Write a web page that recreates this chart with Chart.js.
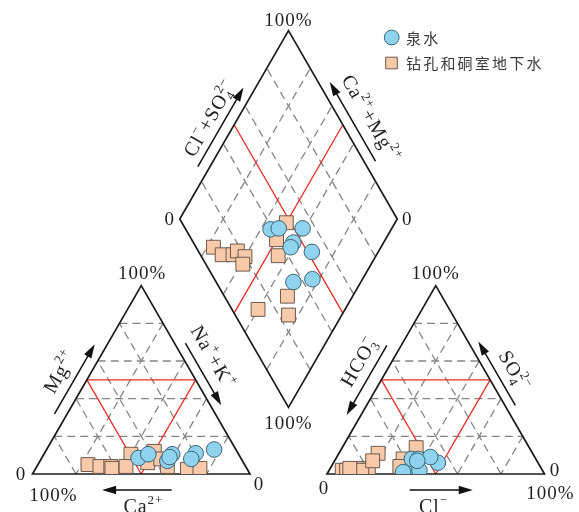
<!DOCTYPE html>
<html>
<head>
<meta charset="utf-8">
<script src="https://cdn.jsdelivr.net/npm/chart.js@4/dist/chart.umd.min.js"></script>
<style>
  html, body { margin: 0; padding: 0; background: #ffffff; }
  canvas { display: block; }
</style>
</head>
<body>
<canvas id="piper" width="579" height="512"></canvas>
<script>
// ---- Piper diagram data (milliequivalent percentages) ----
const seriesNames = ['泉水', '钻孔和硐室地下水'];

// Spring water: cations
const springCa  = [47, 41.5, 30.5, 34.5, 32.5, 19.5, 23, 10];
const springMg  = [8.5, 10.5, 10.5, 7, 9, 11, 8, 13];
const springNaK = [44.5, 48, 59, 58.5, 58.5, 69.5, 69, 77];
// Spring water: anions
const springHCO3 = [61, 57, 46, 54, 56.5, 48, 64.5, 55];
const springSO4  = [2, 8, 6, 8, 2, 9, 1, 7];
const springCl   = [37, 35, 48, 38, 41.5, 43, 34.5, 38];

// Borehole and chamber groundwater: cations
const wellCa  = [72, 67, 62, 62, 49.5, 55, 44, 38, 37, 36, 27.5, 21.5];
const wellMg  = [5, 4, 4, 3, 10.5, 4, 6, 12, 8, 4, 2.5, 3];
const wellNaK = [23, 29, 34, 35, 40, 41, 50, 50, 55, 60, 70, 75.5];
// Borehole and chamber groundwater: anions
const wellHCO3 = [92, 90, 85, 82, 80, 83, 52, 61, 64.5, 88, 71, 75.5];
const wellSO4  = [2, 2, 2, 3, 2, 2, 14, 8, 4, 3, 11, 7];
const wellCl   = [6, 8, 13, 15, 18, 15, 34, 31, 31.5, 9, 18, 17.5];

// Grid and classification lines (percent)
const gridLevels = [20, 40, 60, 80];
const classLevels = [50];

// ---- Diagram geometry in percent units (triangle side = 100) ----
const H = Math.sqrt(3) / 2;
const GAP = 35.4;
const CAT = [[0, 0], [100, 0], [50, 100 * H]];                          // Ca, Na+K, Mg corners
const AN  = [[100 + GAP, 0], [200 + GAP, 0], [150 + GAP, 100 * H]];     // HCO3, Cl, SO4 corners
const DB = [100 + GAP / 2, GAP * H];
const DL = [DB[0] - 50, DB[1] + 100 * H];
const DR = [DB[0] + 50, DB[1] + 100 * H];
const DT = [DB[0], DB[1] + 200 * H];

const PX = 2.175, ORIGIN_X = 32.5, BASE_Y = 474, CW = 579, CH = 512;

const lerp = (p, q, t) => [p[0] + (q[0] - p[0]) * t, p[1] + (q[1] - p[1]) * t];
function ternary(tri, a, b, c) {
  const s = a + b + c;
  return {
    x: (a * tri[0][0] + b * tri[1][0] + c * tri[2][0]) / s,
    y: (a * tri[0][1] + b * tri[1][1] + c * tri[2][1]) / s
  };
}
function diamond(caMg, clSo4) {
  const c = caMg / 100, s = clSo4 / 100;
  return {
    x: DB[0] + c * (DL[0] - DB[0]) + s * (DR[0] - DB[0]),
    y: DB[1] + c * (DL[1] - DB[1]) + s * (DR[1] - DB[1])
  };
}
function piperPoints(ca, mg, nak, hco3, so4, cl) {
  const pts = [];
  for (let i = 0; i < ca.length; i++) {
    pts.push(ternary(CAT, ca[i], nak[i], mg[i]));
    pts.push(ternary(AN, hco3[i], cl[i], so4[i]));
    const catSum = ca[i] + mg[i] + nak[i], anSum = hco3[i] + so4[i] + cl[i];
    pts.push(diamond(100 * (ca[i] + mg[i]) / catSum, 100 * (cl[i] + so4[i]) / anSum));
  }
  return pts;
}
const springPts = piperPoints(springCa, springMg, springNaK, springHCO3, springSO4, springCl);
const wellPts = piperPoints(wellCa, wellMg, wellNaK, wellHCO3, wellSO4, wellCl);

const SERIF = '"Liberation Serif", "DejaVu Serif", serif';
const CJK = '"Noto Sans CJK SC", "Noto Sans", sans-serif';
const INK = '#231f20';

// ---- Rich text with super/subscripts: ^{..}, _{..} ----
function layoutRich(ctx, text, size) {
  const re = /([_^])\{([^}]*)\}|([^_^]+)/g;
  const toks = []; let m;
  while ((m = re.exec(text))) {
    toks.push(m[3] !== undefined ? { k: 'n', t: m[3] } : { k: m[1] === '^' ? 'sup' : 'sub', t: m[2] });
  }
  const small = Math.round(size * 0.66);
  const items = []; let x = 0; let lastSub = null;
  for (const tk of toks) {
    const fs = tk.k === 'n' ? size : small;
    ctx.font = fs + 'px ' + SERIF;
    const w = ctx.measureText(tk.t).width;
    if (tk.k === 'sup' && lastSub) {
      items.push({ t: tk.t, fs, x: lastSub.x, dy: -size * 0.45 });
      x = Math.max(x, lastSub.x + w);
      lastSub = null;
      continue;
    }
    const dy = tk.k === 'sup' ? -size * 0.45 : tk.k === 'sub' ? size * 0.22 : 0;
    const it = { t: tk.t, fs, x, dy };
    items.push(it);
    lastSub = tk.k === 'sub' ? it : null;
    x += w;
  }
  return { items, width: x };
}
function drawRich(ctx, text, x, y, angle, size) {
  ctx.save();
  ctx.letterSpacing = '1px';
  const L = layoutRich(ctx, text, size);
  ctx.translate(x, y);
  ctx.rotate(angle);
  ctx.textAlign = 'left';
  ctx.textBaseline = 'alphabetic';
  ctx.fillStyle = INK;
  for (const it of L.items) {
    ctx.font = it.fs + 'px ' + SERIF;
    ctx.fillText(it.t, it.x - L.width / 2, it.dy);
  }
  ctx.restore();
}
function drawArrow(ctx, p, q) {
  const dx = q[0] - p[0], dy = q[1] - p[1], len = Math.hypot(dx, dy);
  const ux = dx / len, uy = dy / len, hl = 14, hw = 4.2;
  const bx = q[0] - ux * hl, by = q[1] - uy * hl;
  ctx.save();
  ctx.strokeStyle = '#111'; ctx.fillStyle = '#111'; ctx.lineWidth = 1.5;
  ctx.beginPath(); ctx.moveTo(p[0], p[1]); ctx.lineTo(bx + ux * 2, by + uy * 2); ctx.stroke();
  ctx.beginPath();
  ctx.moveTo(q[0], q[1]);
  ctx.lineTo(bx - uy * hw, by + ux * hw);
  ctx.lineTo(bx + uy * hw, by - ux * hw);
  ctx.closePath(); ctx.fill();
  ctx.restore();
}

// ---- Frame: grids, classification lines, outlines, labels, legend ----
const piperFrame = {
  id: 'piperFrame',
  beforeDatasetsDraw(chart) {
    const { ctx } = chart;
    const sx = chart.scales.x, sy = chart.scales.y;
    const P = p => [sx.getPixelForValue(p[0]), sy.getPixelForValue(p[1])];
    const line = (a, b) => { const p = P(a), q = P(b); ctx.beginPath(); ctx.moveTo(p[0], p[1]); ctx.lineTo(q[0], q[1]); ctx.stroke(); };
    const triLines = (tri, k) => {
      const t = k / 100;
      for (let i = 0; i < 3; i++) {
        const j = (i + 1) % 3, m = (i + 2) % 3;
        line(lerp(tri[j], tri[i], t), lerp(tri[m], tri[i], t));
      }
    };
    const diaLines = k => {
      const t = k / 100;
      line(lerp(DB, DL, t), lerp(DR, DT, t));
      line(lerp(DB, DR, t), lerp(DL, DT, t));
    };
    ctx.save();
    ctx.lineCap = 'butt';
    // dashed grid
    ctx.strokeStyle = '#858585'; ctx.lineWidth = 1.3; ctx.setLineDash([8, 5]);
    gridLevels.forEach(k => { triLines(CAT, k); triLines(AN, k); diaLines(k); });
    // 50 % classification lines
    ctx.setLineDash([]);
    ctx.strokeStyle = '#ec2b24'; ctx.lineWidth = 1.3;
    classLevels.forEach(k => { triLines(CAT, k); triLines(AN, k); diaLines(k); });
    // outlines
    ctx.strokeStyle = '#1a1a1a'; ctx.lineWidth = 1.7; ctx.lineJoin = 'miter';
    [CAT, AN, [DB, DR, DT, DL]].forEach(poly => {
      ctx.beginPath();
      poly.forEach((v, i) => { const p = P(v); i ? ctx.lineTo(p[0], p[1]) : ctx.moveTo(p[0], p[1]); });
      ctx.closePath(); ctx.stroke();
    });
    ctx.restore();
  },
  afterDraw(chart) {
    const { ctx } = chart;
    const sx = chart.scales.x, sy = chart.scales.y;
    const P = p => [sx.getPixelForValue(p[0]), sy.getPixelForValue(p[1])];
    // edge helper: a -> b in pixels, outward normal pointing away from centre
    const edge = (a, b, centre) => {
      const p = P(a), q = P(b), c = P(centre);
      const dx = q[0] - p[0], dy = q[1] - p[1], len = Math.hypot(dx, dy);
      let nx = dy / len, ny = -dx / len;
      const mx = (p[0] + q[0]) / 2 - c[0], my = (p[1] + q[1]) / 2 - c[1];
      if (nx * mx + ny * my < 0) { nx = -nx; ny = -ny; }
      return {
        at: (t, off) => [p[0] + dx * t + nx * off, p[1] + dy * t + ny * off],
        angle: Math.atan2(dy, dx)
      };
    };
    const catC = [50, 30], anC = [150 + GAP, 30], diaC = [DB[0], DB[1] + 100 * H];
    const FS = 20;
    const axes = [
      // [edge, arrow tail t, arrow head t, arrow offset, label, label t, label baseline offset]
      [edge(CAT[0], CAT[2], catC), 0.29, 0.66, 11, 'Mg^{2+}', 0.47, 21],
      [edge(CAT[2], CAT[1], catC), 0.33, 0.66, 9.5, 'Na^{+}+K^{+}', 0.45, 20],
      [edge(DL, DT, diaC), 0.25, 0.67, 10.5, 'Cl^{−}+SO_{4}^{2−}', 0.47, 18],
      [edge(DT, DR, diaC), 0.72, 0.30, 10, 'Ca^{2+}+Mg^{2+}', 0.54, 21],
      [edge(AN[0], AN[2], anC), 0.65, 0.28, 12.5, 'HCO_{3}^{−}', 0.52, 22],
      [edge(AN[2], AN[1], anC), 0.66, 0.32, 9, 'SO_{4}^{2−}', 0.52, 19]
    ];
    axes.forEach(([e, t0, t1, off, label, lt, lo]) => {
      drawArrow(ctx, e.at(t0, off), e.at(t1, off));
      const b = e.at(lt, lo);
      drawRich(ctx, label, b[0], b[1], e.angle, FS);
    });
    // base axes (Ca2+ and Cl-)
    const catBase = edge(CAT[0], CAT[1], catC), anBase = edge(AN[0], AN[1], anC);
    drawArrow(ctx, catBase.at(0.64, 16), catBase.at(0.32, 16));
    let b = catBase.at(0.51, 39); drawRich(ctx, 'Ca^{2+}', b[0], b[1], 0, FS);
    drawArrow(ctx, anBase.at(0.38, 16), anBase.at(0.67, 16));
    b = anBase.at(0.49, 39); drawRich(ctx, 'Cl^{−}', b[0], b[1], 0, FS);

    // corner values
    ctx.save();
    ctx.fillStyle = INK; ctx.font = '19px ' + SERIF; ctx.letterSpacing = '1px';
    ctx.textAlign = 'center'; ctx.textBaseline = 'middle';
    const corner = (v, txt, dx, dy) => { const p = P(v); ctx.fillText(txt, p[0] + dx, p[1] + dy); };
    corner(DT, '100%', 0, -10);
    corner(DL, '0', -10, 1);
    corner(DR, '0', 10, 1);
    corner(DB, '100%', 0, 16.5);
    corner(CAT[2], '100%', 1, -12);
    corner(CAT[0], '0', -11.5, 1);
    corner(CAT[0], '100%', 21, 22);
    corner(CAT[1], '0', 9, 11);
    corner(AN[2], '100%', 0, -12);
    corner(AN[0], '0', -3, 15);
    corner(AN[1], '0', 10.5, -3);
    corner(AN[1], '100%', 6, 20);
    ctx.restore();

    // legend
    ctx.save();
    const ds = chart.data.datasets;
    const rows = [[391.7, 37.5], [391.5, 63]];
    ds.forEach((d, i) => {
      const [lx, ly] = rows[i];
      ctx.fillStyle = d.backgroundColor; ctx.strokeStyle = d.borderColor; ctx.lineWidth = 1;
      ctx.beginPath();
      if (d.pointStyle === 'circle') ctx.arc(lx, ly, 7.4, 0, Math.PI * 2);
      else ctx.rect(lx - 5.8, ly - 5.8, 11.6, 11.6);
      ctx.fill(); ctx.stroke();
      ctx.fillStyle = '#3a3a3a'; ctx.font = '15px ' + CJK; ctx.letterSpacing = '2.2px';
      ctx.textAlign = 'left'; ctx.textBaseline = 'middle';
      ctx.fillText(d.label, 406, ly + 0.5);
    });
    ctx.restore();
  }
};

const clipBase = { left: false, top: false, right: false, bottom: 0 };

new Chart(document.getElementById('piper'), {
  type: 'scatter',
  data: {
    datasets: [
      {
        label: seriesNames[0], data: springPts, pointStyle: 'circle', pointRadius: 7.8,
        backgroundColor: '#8fd3ee', borderColor: '#3e6478', borderWidth: 1, clip: clipBase
      },
      {
        label: seriesNames[1], data: wellPts, pointStyle: 'rect', pointRadius: 9.8,
        backgroundColor: '#f8caa9', borderColor: '#6b5a4e', borderWidth: 1, clip: clipBase
      }
    ]
  },
  options: {
    responsive: false,
    animation: false,
    devicePixelRatio: 1,
    events: [],
    layout: { autoPadding: false, padding: { left: 0, right: 0, top: 0, bottom: CH - BASE_Y } },
    scales: {
      x: { type: 'linear', display: false, min: -ORIGIN_X / PX, max: (CW - ORIGIN_X) / PX },
      y: { type: 'linear', display: false, min: 0, max: BASE_Y / PX }
    },
    plugins: { legend: { display: false }, tooltip: { enabled: false } }
  },
  plugins: [piperFrame]
});
</script>
</body>
</html>
